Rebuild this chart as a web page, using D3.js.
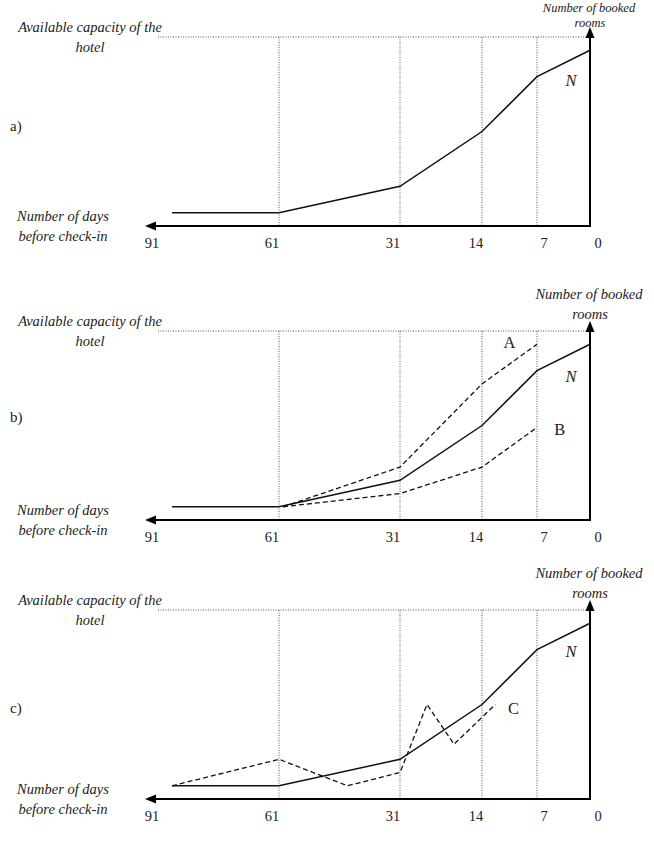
<!DOCTYPE html>
<html><head><meta charset="utf-8">
<script src="https://cdn.jsdelivr.net/npm/d3@7"></script>
<style>
html,body{margin:0;padding:0;background:#fff;}
svg{display:block;}
text{font-family:"Liberation Serif","Times New Roman",serif;fill:#222;}
</style></head>
<body>
<script>
// ---- data ----
const tickDays = [91, 61, 31, 14, 7, 0];
const tickLabels = ["91", "61", "31", "14", "7", "0"];
const gridDays = [61, 31, 14, 7];
const capacity = 100;
// N: normal booking curve (% of capacity)
const nDays = [91, 61, 31, 14, 7, 0];
const nValues = [7, 7, 21, 50, 79, 93];
// A: faster-than-normal pickup
const aDays = [60, 31, 14, 7];
const aValues = [7, 28, 72, 93];
// B: slower-than-normal pickup
const bDays = [60, 31, 14, 7];
const bValues = [7, 14, 28, 49];
// C: irregular pickup
const cDays = [91, 61, 44, 31, 25.4, 19.8, 12.3];
const cValues = [7, 21, 7, 14, 50, 29, 50];
const panelLetters = ["a)", "b)", "c)"];

// ---- layout ----
const W = 654, H = 848;
const svg = d3.select("body").append("svg").attr("width", W).attr("height", H);
const x = d3.scaleLinear().domain(tickDays).range([172, 279, 400, 482, 537, 590]);
const xLabel = d3.scaleLinear().domain(tickDays).range([152, 272, 393, 476, 544, 598]);
const panelTops = [0, 294, 573];
const letterY = [126, 123, 135];
const bookedY = [7.5, 0, 0];
const roomsY = [22.3, 20, 20];
const titleSize = [12.5, 14.5, 14.5];

const line = (xs, vs, y) => d3.line().x(d => x(d[0])).y(d => y(d[1]))(xs.map((d, i) => [d, vs[i]]));

const panels = [
  {series: [{d: nDays, v: nValues, dash: null}], labels: [{t: "N", day: 2.5, val: 77, it: true}]},
  {series: [{d: nDays, v: nValues, dash: null}, {d: aDays, v: aValues, dash: "5,3"}, {d: bDays, v: bValues, dash: "5,3"}],
   labels: [{t: "N", day: 2.5, val: 76, it: true}, {t: "A", day: 10.5, val: 94, it: false}, {t: "B", day: 4, val: 48, it: false}]},
  {series: [{d: nDays, v: nValues, dash: null}, {d: cDays, v: cValues, dash: "5,3"}],
   labels: [{t: "N", day: 2.5, val: 78, it: true}, {t: "C", day: 10, val: 48, it: false}]}
];

panels.forEach((p, pi) => {
  const top = panelTops[pi];
  const axisY = top + 226, capY = top + 37;
  const y = d3.scaleLinear().domain([0, capacity]).range([axisY, capY]);
  const g = svg.append("g");

  // capacity dotted line
  g.append("line").attr("x1", x(91) - 14).attr("x2", x(0)).attr("y1", y(capacity)).attr("y2", y(capacity))
    .attr("stroke", "#555").attr("stroke-width", 1).attr("stroke-dasharray", "1,1.5");
  // vertical dotted gridlines
  g.selectAll(".grid").data(gridDays).enter().append("line")
    .attr("x1", d => x(d)).attr("x2", d => x(d)).attr("y1", y(capacity)).attr("y2", axisY)
    .attr("stroke", "#555").attr("stroke-width", 1).attr("stroke-dasharray", "1,1.5");

  // series
  p.series.forEach(s => {
    g.append("path").attr("d", line(s.d, s.v, y)).attr("fill", "none")
      .attr("stroke", "#111").attr("stroke-width", s.dash ? 1.3 : 1.5)
      .attr("stroke-dasharray", s.dash);
  });

  // axes
  const x0 = x(0), xl = x(91) - 27;
  g.append("line").attr("x1", x0).attr("x2", xl + 8).attr("y1", axisY).attr("y2", axisY)
    .attr("stroke", "#000").attr("stroke-width", 2);
  g.append("path").attr("d", `M${xl},${axisY} L${xl + 11},${axisY - 4.5} L${xl + 11},${axisY + 4.5} Z`).attr("fill", "#000");
  const yt = top + 27;
  g.append("line").attr("x1", x0).attr("x2", x0).attr("y1", axisY + 1).attr("y2", yt + 8)
    .attr("stroke", "#000").attr("stroke-width", 2);
  g.append("path").attr("d", `M${x0},${yt} L${x0 - 4.5},${yt + 11} L${x0 + 4.5},${yt + 11} Z`).attr("fill", "#000");

  // tick labels
  g.selectAll(".tl").data(tickDays).enter().append("text")
    .attr("x", d => xLabel(d)).attr("y", top + 243).attr("dy", "0.35em").attr("text-anchor", "middle")
    .attr("font-size", 14.5).text((d, i) => tickLabels[i]);

  // axis titles
  const it = (t, tx, ty, fs) => g.append("text").attr("x", tx).attr("y", ty).attr("dy", "0.35em")
    .attr("text-anchor", "middle").attr("font-style", "italic").attr("font-size", fs || 14.5).text(t);
  it("Number of booked", 589, top + bookedY[pi], titleSize[pi]);
  it("rooms", 590, top + roomsY[pi], titleSize[pi]);
  it("Available capacity of the", 90, top + 27);
  it("hotel", 90, top + 47);
  it("Number of days", 63, top + 216);
  it("before check-in", 63, top + 236);

  // panel letter
  g.append("text").attr("x", 10).attr("y", top + letterY[pi]).attr("dy", "0.35em")
    .attr("font-size", 15).attr("font-family", "'DejaVu Sans',sans-serif").attr("fill", "#111").text(panelLetters[pi]);

  // series labels
  p.labels.forEach(l => {
    g.append("text").attr("x", x(l.day)).attr("y", y(l.val)).attr("dy", "0.35em").attr("text-anchor", "middle")
      .attr("font-size", 16.5).attr("font-style", l.it ? "italic" : "normal").text(l.t);
  });
});
</script>
</body></html>
